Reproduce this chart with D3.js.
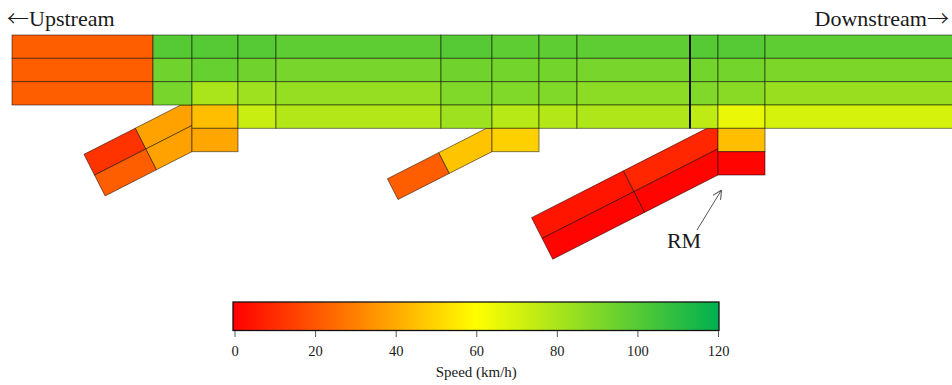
<!DOCTYPE html>
<html>
<head>
<meta charset="utf-8">
<script src="https://cdn.jsdelivr.net/npm/d3@7"></script>
<style>
  body { margin: 0; background: #fff; }
  svg { display: block; }
  text { font-family: "Liberation Serif", "Times New Roman", serif; fill: #1a1a1a; }
  .arrowGlyph { font-family: "Noto Sans CJK JP", "DejaVu Sans", sans-serif; font-weight: 300; }
</style>
</head>
<body>
<svg id="chart" width="952" height="385"></svg>
<script>
// segment boundaries along the mainline (m)
var colEdges = [0, 282, 360, 452, 528, 858, 960, 1054, 1130, 1356, 1412, 1506, 1900]

// speed per mainline segment, lanes top -> bottom (km/h), null = no lane
var mainSpeeds = [
  [22, 22, 22, null, null, null],
  [100, 94, 92, null, null, null],
  [100, 96, 80, 45, 39, null],
  [100, 94, 83, 73, null, null],
  [98, 92, 85, 78, null, null],
  [100, 94, 90, 83, null, null],
  [98, 93, 90, 77, 49, null],
  [98, 93, 90, 78, null, null],
  [98, 92, 87, 79, null, null],
  [100, 93, 90, 75, null, null],
  [100, 93, 88, 65, 45, 1],
  [98, 91, 84, 70, null, null]
]

// detector / boundary drawn as the thick line (m)
var detectorPos = [1356]

// on-ramps
var rampJoin = [360, 960, 1412]       // where the ramp meets the mainline (m)
var rampTopRow = [3, 4, 4]            // lane row of the ramp's top lane at the join
var rampLanes = [2, 1, 2]
var rampLength = [195, 211, 371]      // m
var rampSplit = [80, 96, 165]         // inner segment length (m)
// per lane (top -> bottom), per segment (inner -> outer)
var rampSpeeds = [
  [[38, 12], [38, 22]],
  [[46, 22]],
  [[9, 5], [1, 1]]
]

var speedTicks = [0, 20, 40, 60, 80, 100, 120]

var svg = d3.select("#chart")

var x = d3.scaleLinear().domain([0, 1880]).range([12, 952])
var y = d3.scaleLinear().domain([0, 6]).range([35, 175])
var color = d3.scaleLinear().domain([0, 60, 120]).range(["#ff0000", "#ffff00", "#00b050"])

var kx = x(1) - x(0)
var W = y(1) - y(0)
var theta = 27 * Math.PI / 180
var u = [-Math.cos(theta), Math.sin(theta)]
var nv = [-Math.sin(theta), -Math.cos(theta)]

var cellStroke = "rgba(0,0,0,0.5)"

// clip a polygon against the half plane f(p) >= 0
function clipBy(poly, f) {
  var out = []
  for (var i = 0; i < poly.length; i++) {
    var a = poly[i], b = poly[(i + 1) % poly.length]
    var fa = f(a), fb = f(b)
    if (fa >= 0) out.push(a)
    if ((fa >= 0) !== (fb >= 0)) {
      var t = fa / (fa - fb)
      out.push([a[0] + t * (b[0] - a[0]), a[1] + t * (b[1] - a[1])])
    }
  }
  return out
}

// ramp cells
var rampCells = []
rampJoin.forEach(function (jm, r) {
  var xj = x(jm)
  var yT = y(rampTopRow[r])
  var yB = y(rampTopRow[r] + rampLanes[r])
  var bounds = [-80, rampSplit[r] * kx, rampLength[r] * kx]
  function pt(k, s) {
    return [xj + k * W * nv[0] + s * u[0], yB + k * W * nv[1] + s * u[1]]
  }
  rampSpeeds[r].forEach(function (segs, j) {
    var k = rampLanes[r] - 1 - j
    segs.forEach(function (v, s) {
      var s0 = bounds[s], s1 = bounds[s + 1]
      var poly = [pt(k, s0), pt(k, s1), pt(k + 1, s1), pt(k + 1, s0)]
      if (s === 0) {
        poly = clipBy(poly, function (p) { return xj - p[0] })
        poly = clipBy(poly, function (p) { return p[1] - yT })
      }
      rampCells.push({ poly: poly, v: v })
    })
  })
})

svg.append("g").selectAll("path")
  .data(rampCells)
  .enter()
  .append("path")
  .attr("d", function (d) { return "M" + d.poly.map(function (p) { return p.join(",") }).join("L") + "Z" })
  .attr("fill", function (d) { return color(d.v) })
  .attr("stroke", cellStroke)
  .attr("stroke-width", 1)
  .attr("stroke-linejoin", "round")

// mainline cells
var mainCells = []
mainSpeeds.forEach(function (col, c) {
  col.forEach(function (v, row) {
    if (v === null) return
    mainCells.push({ c: c, row: row, v: v })
  })
})

svg.append("g").selectAll("rect")
  .data(mainCells)
  .enter()
  .append("rect")
  .attr("x", function (d) { return x(colEdges[d.c]) })
  .attr("y", function (d) { return y(d.row) })
  .attr("width", function (d) { return x(colEdges[d.c + 1]) - x(colEdges[d.c]) })
  .attr("height", W)
  .attr("fill", function (d) { return color(d.v) })
  .attr("stroke", cellStroke)
  .attr("stroke-width", 1)

svg.append("g").selectAll("line")
  .data(detectorPos)
  .enter()
  .append("line")
  .attr("x1", function (d) { return x(d) })
  .attr("x2", function (d) { return x(d) })
  .attr("y1", y(0))
  .attr("y2", y(4))
  .attr("stroke", "#111")
  .attr("stroke-width", 2)

// direction labels
var up = svg.append("text").attr("x", 7).attr("y", 26).attr("font-size", 22)
up.append("tspan").attr("class", "arrowGlyph").text("\u2190")
up.append("tspan").text("Upstream")

var down = svg.append("text").attr("x", 949).attr("y", 26).attr("font-size", 22)
  .attr("text-anchor", "end")
down.append("tspan").text("Downstream")
down.append("tspan").attr("class", "arrowGlyph").text("\u2192")

// RM annotation
svg.append("defs").append("marker")
  .attr("id", "arr")
  .attr("viewBox", "0 0 10 10")
  .attr("refX", 10).attr("refY", 5)
  .attr("markerWidth", 9).attr("markerHeight", 9)
  .attr("markerUnits", "userSpaceOnUse")
  .attr("orient", "auto")
  .append("path")
  .attr("d", "M0,0L10,5L0,10")
  .attr("fill", "none")
  .attr("stroke", "#555")
  .attr("stroke-width", 1.2)

svg.append("line")
  .attr("x1", 697).attr("y1", 230)
  .attr("x2", 721.5).attr("y2", 190)
  .attr("stroke", "#555")
  .attr("stroke-width", 1)
  .attr("marker-end", "url(#arr)")

svg.append("text").attr("x", 684).attr("y", 248).attr("font-size", 22)
  .attr("text-anchor", "middle").text("RM")

// colour bar
var cb = d3.scaleLinear().domain([0, 120]).range([234.5, 718])

var grad = svg.select("defs").append("linearGradient")
  .attr("id", "speedGrad")
  .attr("x1", "0%").attr("x2", "100%")
grad.selectAll("stop")
  .data(color.domain())
  .enter()
  .append("stop")
  .attr("offset", function (d) { return (d / 120 * 100) + "%" })
  .attr("stop-color", function (d) { return color(d) })

svg.append("rect")
  .attr("x", cb(0) - 1.5)
  .attr("y", 302)
  .attr("width", cb(120) - cb(0) + 2.5)
  .attr("height", 28.5)
  .attr("fill", "url(#speedGrad)")
  .attr("stroke", "#111")
  .attr("stroke-width", 1.3)

var axis = svg.append("g")
  .attr("transform", "translate(0,331)")
  .call(d3.axisBottom(cb).tickValues(speedTicks).tickSize(6).tickPadding(9))
axis.select(".domain").remove()
axis.selectAll(".tick line").attr("stroke", "#555")
axis.selectAll(".tick text")
  .attr("font-family", "Liberation Serif, Times New Roman, serif")
  .attr("font-size", 14.5)
  .attr("fill", "#1a1a1a")

svg.append("text")
  .attr("x", (cb(0) + cb(120)) / 2)
  .attr("y", 377)
  .attr("font-size", 15)
  .attr("text-anchor", "middle")
  .text("Speed (km/h)")
</script>
</body>
</html>
